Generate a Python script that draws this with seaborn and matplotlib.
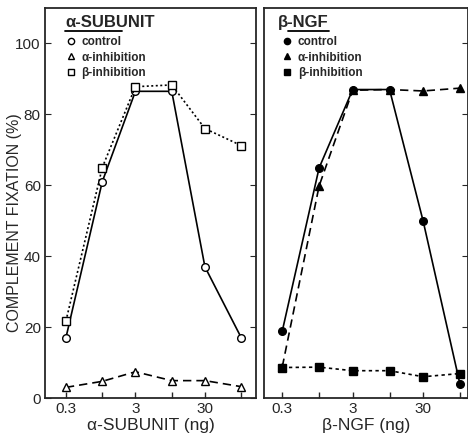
import matplotlib
matplotlib.use("Agg")
import matplotlib.pyplot as plt
from matplotlib.lines import Line2D
import seaborn as sns

sns.set_style("ticks")
plt.rcParams['font.family'] = ['Liberation Sans', 'DejaVu Sans']

dose = [0.3, 1, 3, 10, 30, 100]
tick_labels = ["0.3", "", "3", "", "30", ""]

# alpha-subunit panel
a_control = [17, 61, 86.5, 86.5, 37, 17]
a_alpha_inh = [3, 4.7, 7.4, 4.9, 4.9, 3.2]
a_beta_inh = [21.7, 65, 87.8, 88.3, 76, 71.2]

# beta-NGF panel
b_control = [18.9, 64.9, 87, 87, 49.9, 3.9]
b_alpha_inh = [8.8, 59.8, 86.8, 87, 86.6, 87.4]
b_beta_inh = [8.6, 8.7, 7.7, 7.7, 6.0, 6.9]

W, H = 468, 436
fig = plt.figure(figsize=(W / 100, H / 100), dpi=100)
ax1 = fig.add_axes([45 / W, (H - 398) / H, 211 / W, 390 / H])
ax2 = fig.add_axes([264 / W, (H - 398) / H, 204 / W, 390 / H])

lw = 1.2
ms = 5.5

def series(ax, y, marker, ls, filled):
    sns.lineplot(x=dose, y=y, ax=ax, color="black", linewidth=lw, linestyle=ls,
                 marker=marker, markersize=ms,
                 markerfacecolor=("black" if filled else "white"),
                 markeredgecolor="black", markeredgewidth=1.0)

series(ax1, a_control, "o", "-", False)
series(ax1, a_alpha_inh, "^", (0, (5, 3)), False)
series(ax1, a_beta_inh, "s", (0, (1.2, 1.5)), False)

series(ax2, b_control, "o", "-", True)
series(ax2, b_alpha_inh, "^", (0, (5, 3)), True)
series(ax2, b_beta_inh, "s", (0, (2, 2)), True)

for ax in (ax1, ax2):
    ax.set_xscale("log")
    ax.set_ylim(0, 110)
    ax.set_xticks(dose)
    ax.set_xticklabels(tick_labels, fontsize=11)
    ax.minorticks_off()
    ax.tick_params(axis="x", direction="in", length=4, width=1, pad=3)
    for s in ax.spines.values():
        s.set_linewidth(1.3)

ax1.set_xlim(0.15, 163)
ax2.set_xlim(0.165, 130)

ax1.set_yticks([0, 20, 40, 60, 80, 100])
ax1.tick_params(axis="y", which="both", left=True, right=True, direction="in",
                length=4, labelsize=11, pad=3)
ax2.set_yticks([0, 20, 40, 60, 80, 100])
ax2.tick_params(axis="y", left=False, right=True, labelleft=False, direction="in",
                length=4)

ax1.set_ylabel("COMPLEMENT FIXATION (%)", fontsize=11.5)
ax1.yaxis.set_label_coords(-0.108, 0.45)
ax1.set_xlabel("α-SUBUNIT (ng)", fontsize=12.5, labelpad=1)
ax2.set_xlabel("β-NGF (ng)", fontsize=12.5, labelpad=1)
ax2.set_ylabel("")

ax1.text(0.095, 0.951, "α-SUBUNIT", transform=ax1.transAxes, fontsize=12,
         fontweight="bold", va="baseline", ha="left")
ax1.plot([0.095, 0.365], [0.940, 0.940], transform=ax1.transAxes, color="black",
         lw=1.3, clip_on=False)
ax2.text(0.07, 0.951, "β-NGF", transform=ax2.transAxes, fontsize=12,
         fontweight="bold", va="baseline", ha="left")
ax2.plot([0.118, 0.32], [0.940, 0.940], transform=ax2.transAxes, color="black",
         lw=1.3, clip_on=False)

def legend(ax, filled, x0):
    fc = "black" if filled else "white"
    h = [Line2D([], [], ls="none", marker=m, color="black", markerfacecolor=fc,
                markersize=4.5) for m in ["o", "^", "s"]]
    ax.legend(h, ["control", "α-inhibition", "β-inhibition"],
              loc="upper left", bbox_to_anchor=(x0, 0.928), frameon=False,
              prop={"size": 8.5, "weight": "bold"}, handlelength=0.8,
              handletextpad=0.5, labelspacing=0.3, borderaxespad=0, borderpad=0)

legend(ax1, False, 0.1)
legend(ax2, True, 0.09)

fig.savefig("out.png", dpi=100)
